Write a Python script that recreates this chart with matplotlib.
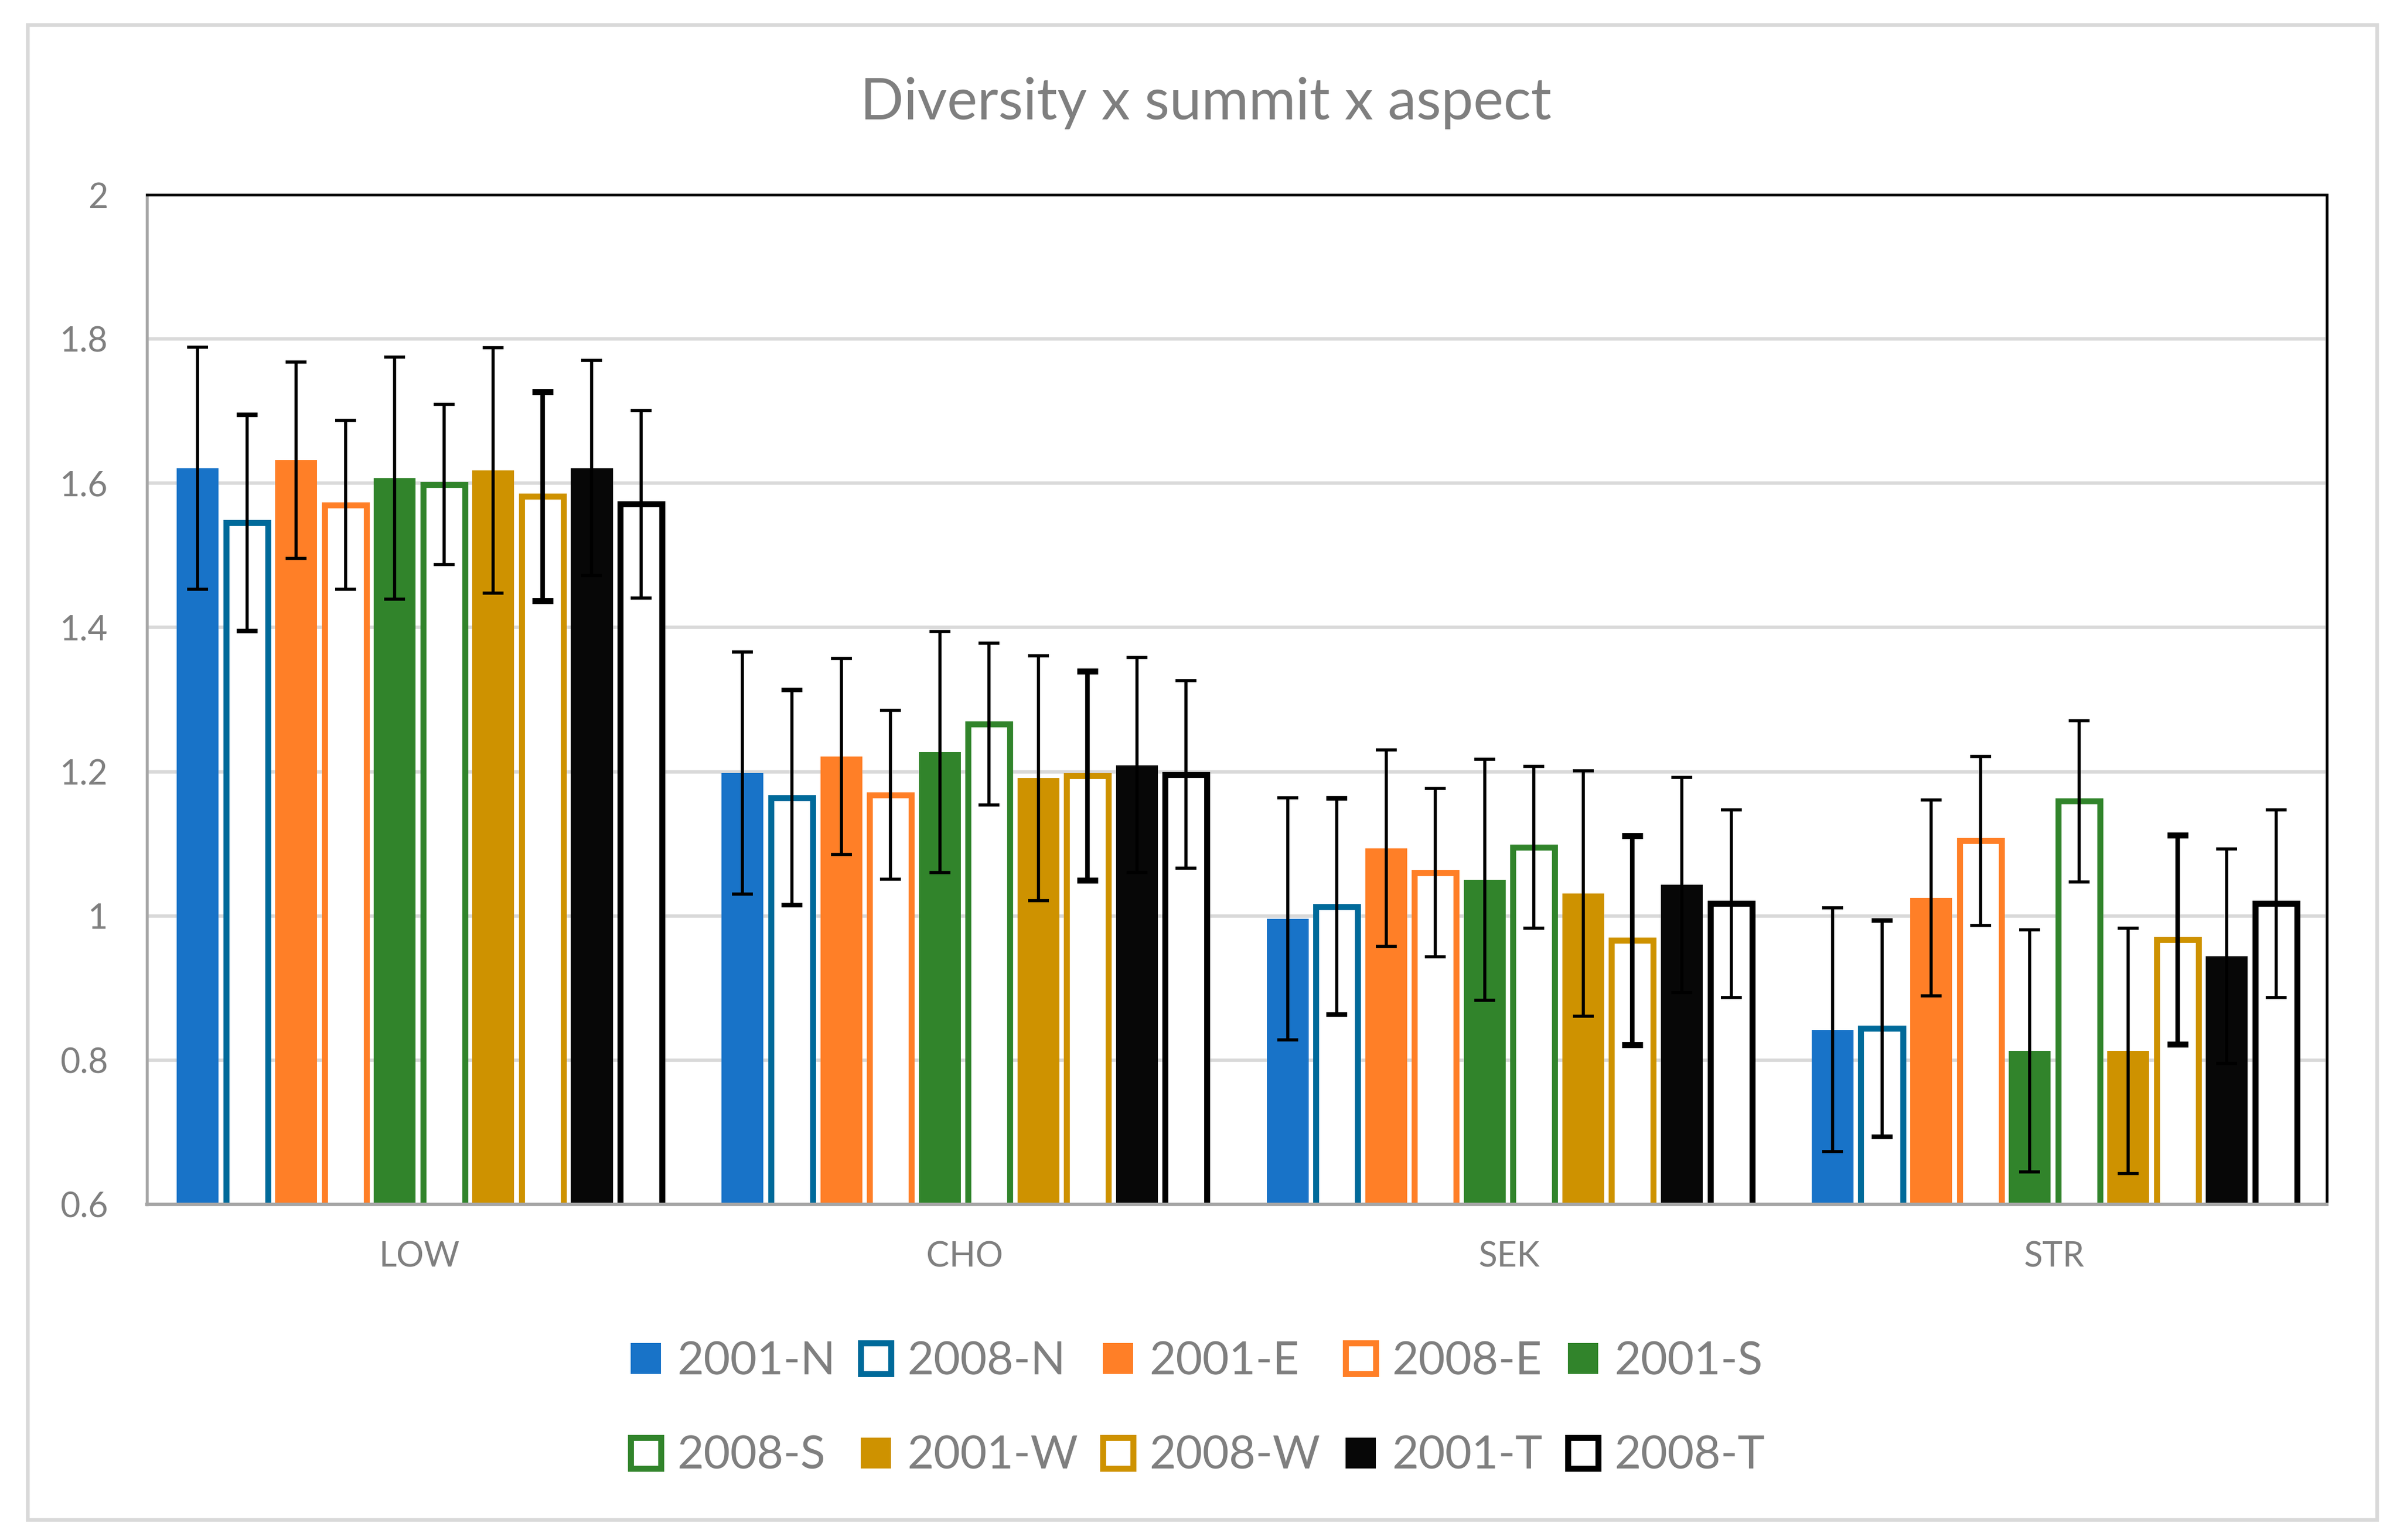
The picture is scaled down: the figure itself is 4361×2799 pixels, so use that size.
import numpy as np
import matplotlib
matplotlib.use("Agg")
import matplotlib.pyplot as plt
from matplotlib.patches import Rectangle

plt.rcParams['font.family'] = ['Lato', 'DejaVu Sans']

# summits on the x axis
summits = ['LOW', 'CHO', 'SEK', 'STR']

# mean diversity per series (LOW, CHO, SEK, STR)
n01 = [1.621, 1.198, 0.996, 0.842]
n08 = [1.545, 1.164, 1.013, 0.844]
e01 = [1.632, 1.221, 1.094, 1.025]
e08 = [1.570, 1.168, 1.060, 1.104]
s01 = [1.607, 1.227, 1.050, 0.813]
s08 = [1.598, 1.266, 1.095, 1.159]
w01 = [1.618, 1.191, 1.031, 0.813]
w08 = [1.582, 1.194, 0.966, 0.967]
t01 = [1.621, 1.209, 1.043, 0.944]
t08 = [1.571, 1.196, 1.017, 1.017]

# error bar half lengths
n01_err = [0.168, 0.168, 0.168, 0.169]
n08_err = [0.150, 0.149, 0.150, 0.150]
e01_err = [0.136, 0.136, 0.136, 0.136]
e08_err = [0.117, 0.117, 0.117, 0.117]
s01_err = [0.168, 0.167, 0.167, 0.168]
s08_err = [0.111, 0.112, 0.112, 0.112]
w01_err = [0.170, 0.170, 0.170, 0.170]
w08_err = [0.145, 0.145, 0.145, 0.145]
t01_err = [0.149, 0.149, 0.149, 0.149]
t08_err = [0.130, 0.130, 0.130, 0.130]

labels = ['2001-N', '2008-N', '2001-E', '2008-E', '2001-S',
          '2008-S', '2001-W', '2008-W', '2001-T', '2008-T']
means = [n01, n08, e01, e08, s01, s08, w01, w08, t01, t08]
errs = [n01_err, n08_err, e01_err, e08_err, s01_err,
        s08_err, w01_err, w08_err, t01_err, t08_err]

# (colour, filled?)
styles = [('#1873C8', True), ('#006A9A', False),
          ('#FF7F27', True), ('#FF7F27', False),
          ('#31842B', True), ('#31842B', False),
          ('#CE9200', True), ('#CE9200', False),
          ('#070707', True), ('#000000', False)]
# error bar line widths (some series drawn heavier in the original)
err_lw = [1.35, 1.35, 1.35, 1.35, 1.35, 1.35, 1.35, 2.0, 1.35, 1.35]
cap_lw = [1.35, 2.0, 1.35, 1.35, 1.35, 1.35, 1.35, 2.6, 1.35, 1.35]

W, H, DPI = 4361, 2799, 300
fig = plt.figure(figsize=(W / DPI, H / DPI), dpi=DPI)
ax = fig.add_axes([267 / W, 1 - 2189 / H, (4228 - 267) / W, (2189 - 354) / H])

grey = '#7F7F7F'
slot = 1 / 11.06
bw = 0.0768
xg = np.arange(len(summits))

handles = []
for i, (lab, m, e) in enumerate(zip(labels, means, errs)):
    col, filled = styles[i]
    xs = xg + (i - 4.5) * slot
    if filled:
        b = ax.bar(xs, m, width=bw, color=col, label=lab, zorder=2)
    else:
        b = ax.bar(xs, m, width=bw, facecolor='white', edgecolor=col,
                   linewidth=2.6, label=lab, zorder=2)
    ax.errorbar(xs, m, yerr=e, fmt='none', ecolor='black',
                elinewidth=err_lw[i], capsize=4.6, capthick=cap_lw[i], zorder=3)
    handles.append(b)

ax.set_ylim(0.6, 2.0)
ax.set_xlim(-0.5, len(summits) - 0.5)
yt = np.arange(0.6, 2.01, 0.2)
ax.set_yticks(yt)
ax.set_yticklabels([f'{v:g}' for v in np.round(yt, 1)])
ax.set_xticks(xg)
ax.set_xticklabels(summits)
ax.tick_params(axis='y', length=0, pad=17, labelsize=15, labelcolor=grey)
ax.tick_params(axis='x', length=0, pad=16, labelsize=15, labelcolor=grey)

ax.set_axisbelow(True)
ax.yaxis.grid(True, color='#D9D9D9', linewidth=1.5)
for side in ['top', 'right']:
    ax.spines[side].set_color('black')
    ax.spines[side].set_linewidth(1.2)
ax.spines['left'].set_color('#A6A6A6')
ax.spines['left'].set_linewidth(1.3)
ax.spines['bottom'].set_color('#A6A6A6')
ax.spines['bottom'].set_linewidth(1.5)
for sp in ax.spines.values():
    sp.set_zorder(4)

fig.text(2191 / W, 1 - 217 / H, 'Diversity x summit x aspect', ha='center',
         va='baseline', fontsize=25, color=grey)

# Excel fills the legend row by row
order = [0, 5, 1, 6, 2, 7, 3, 8, 4, 9]
leg = fig.legend([handles[k] for k in order], [labels[k] for k in order],
                 loc='center', bbox_to_anchor=(0.4990, 1 - 2561 / H), ncol=5,
                 frameon=False, fontsize=20, handlelength=0.66, handleheight=0.66,
                 handletextpad=0.35, columnspacing=0.55, labelspacing=1.15,
                 borderpad=0)
for t in leg.get_texts():
    t.set_color(grey)

# chart area border
fig.patches.append(Rectangle((50 / W, 1 - 2762 / H), (4319 - 50) / W, (2762 - 45) / H,
                             transform=fig.transFigure, fill=False,
                             edgecolor='#D9D9D9', linewidth=1.6))

fig.savefig('out.png', dpi=DPI)
